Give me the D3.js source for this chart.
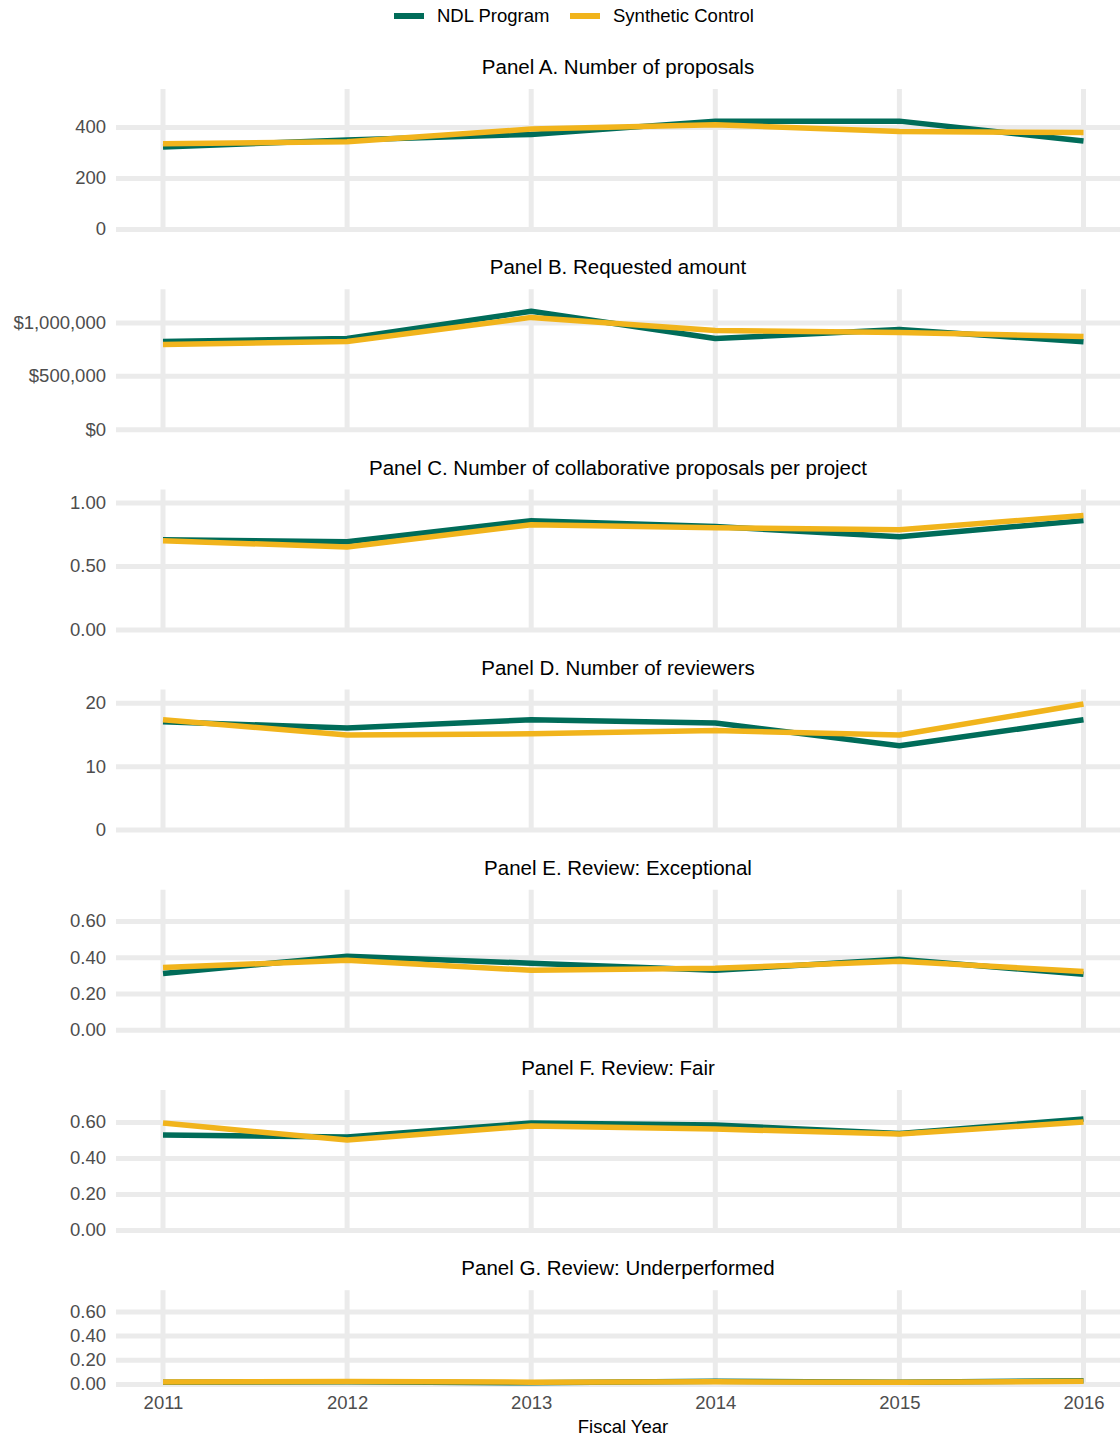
<!DOCTYPE html>
<html>
<head>
<meta charset="utf-8">
<script src="https://cdn.jsdelivr.net/npm/d3@7"></script>
<style>
  html, body { margin: 0; padding: 0; background: #fff; }
  svg { display: block; font-family: "Liberation Sans", Arial, sans-serif; }
</style>
</head>
<body>
<svg id="chart" width="1120" height="1437"></svg>
<script>
// Fiscal years on the shared x axis
const years = [2011, 2012, 2013, 2014, 2015, 2016];

const seriesNames = ["NDL Program", "Synthetic Control"];
const seriesColors = ["#006c59", "#f1b41c"];

const panelTitles = [
  "Panel A. Number of proposals",
  "Panel B. Requested amount",
  "Panel C. Number of collaborative proposals per project",
  "Panel D. Number of reviewers",
  "Panel E. Review: Exceptional",
  "Panel F. Review: Fair",
  "Panel G. Review: Underperformed"
];

// NDL Program values per panel
const ndlProposals      = [322, 349, 371, 423, 423, 345];
const ndlRequested      = [821000, 849000, 1104000, 849000, 934000, 818000];
const ndlCollab         = [0.706, 0.690, 0.857, 0.810, 0.730, 0.857];
const ndlReviewers      = [17.0, 16.0, 17.3, 16.8, 13.2, 17.3];
const ndlExceptional    = [0.311, 0.406, 0.367, 0.328, 0.389, 0.306];
const ndlFair           = [0.528, 0.517, 0.594, 0.583, 0.536, 0.617];
const ndlUnderperformed = [0.015, 0.018, 0.010, 0.022, 0.015, 0.026];

// Synthetic control values per panel
const synProposals      = [334, 342, 392, 409, 382, 378];
const synRequested      = [792000, 821000, 1047000, 925000, 906000, 868000];
const synCollab         = [0.698, 0.650, 0.825, 0.800, 0.786, 0.897];
const synReviewers      = [17.3, 14.9, 15.1, 15.6, 14.9, 19.8];
const synExceptional    = [0.344, 0.383, 0.328, 0.339, 0.378, 0.322];
const synFair           = [0.594, 0.500, 0.578, 0.561, 0.533, 0.600];
const synUnderperformed = [0.016, 0.020, 0.015, 0.018, 0.014, 0.022];

// y-axis upper limits and tick values per panel
const yMaxes = [549, 1311000, 1.103, 22.06, 0.772, 0.778, 0.775];
const yTicks = [
  [0, 200, 400],
  [0, 500000, 1000000],
  [0, 0.5, 1.0],
  [0, 10, 20],
  [0, 0.2, 0.4, 0.6],
  [0, 0.2, 0.4, 0.6],
  [0, 0.2, 0.4, 0.6]
];

const ndlSeries = [ndlProposals, ndlRequested, ndlCollab, ndlReviewers, ndlExceptional, ndlFair, ndlUnderperformed];
const synSeries = [synProposals, synRequested, synCollab, synReviewers, synExceptional, synFair, synUnderperformed];

const fmtInt = d3.format("d");
const fmtDollar = v => "$" + d3.format(",")(v);
const fmt2 = d3.format(".2f");
const tickFormats = [fmtInt, fmtDollar, fmt2, fmtInt, fmt2, fmt2, fmt2];

const svg = d3.select("#chart");
const gridColor = "#ebebeb";
const textGray = "#4d4d4d";

const plotLeft = 116, plotRight = 1120;
const x = d3.scalePoint().domain(years).range([163, 1083.5]);

// Legend
const legend = svg.append("g").attr("class", "legend");
const legendItems = [
  { key: 394, text: 437 },
  { key: 570, text: 613 }
];
seriesNames.forEach((name, i) => {
  legend.append("line")
    .attr("x1", legendItems[i].key).attr("x2", legendItems[i].key + 30)
    .attr("y1", 16).attr("y2", 16)
    .attr("stroke", seriesColors[i]).attr("stroke-width", 6);
  legend.append("text")
    .attr("x", legendItems[i].text).attr("y", 16).attr("dy", "0.35em")
    .attr("font-size", 18.5).attr("fill", "#000")
    .text(name);
});

// Panels
panelTitles.forEach((title, i) => {
  const top = 89 + i * 200.2;
  const zero = i < 6 ? top + 140 : 1384;
  const g = svg.append("g").attr("class", "panel");

  const y = d3.scaleLinear().domain([0, yMaxes[i]]).range([zero, top]);

  // title
  g.append("text")
    .attr("x", (plotLeft + plotRight) / 2).attr("y", top - 22).attr("dy", "0.35em")
    .attr("text-anchor", "middle").attr("font-size", 20.5).attr("fill", "#000")
    .text(title);

  // vertical grid lines
  g.selectAll("line.vgrid").data(years).join("line")
    .attr("class", "vgrid")
    .attr("x1", d => x(d)).attr("x2", d => x(d))
    .attr("y1", top).attr("y2", zero + 2.5)
    .attr("stroke", gridColor).attr("stroke-width", 5);

  // horizontal grid lines + y-axis labels
  const yAxis = d3.axisLeft(y).tickValues(yTicks[i]).tickFormat(tickFormats[i])
    .tickSize(-(plotRight - plotLeft)).tickPadding(10);
  const ax = g.append("g").attr("transform", `translate(${plotLeft},0)`).call(yAxis);
  ax.select(".domain").remove();
  ax.selectAll(".tick line").attr("stroke", gridColor).attr("stroke-width", 5).attr("x1", 0).attr("x2", plotRight - plotLeft);
  ax.selectAll(".tick text").attr("x", -10).attr("fill", textGray).attr("font-size", 18.5)
    .attr("font-family", "Liberation Sans, Arial, sans-serif");

  // series lines
  const line = d3.line().x((d, j) => x(years[j])).y(d => y(d));
  [ndlSeries[i], synSeries[i]].forEach((vals, k) => {
    g.append("path")
      .datum(vals)
      .attr("d", line)
      .attr("fill", "none")
      .attr("stroke", seriesColors[k])
      .attr("stroke-width", 5.5)
      .attr("stroke-linejoin", "round")
      .attr("stroke-linecap", "butt");
  });

  // x axis on the bottom panel
  if (i === 6) {
    const xAxis = d3.axisBottom(x).tickFormat(d3.format("d")).tickSize(0).tickPadding(12);
    const xa = g.append("g").attr("transform", `translate(0,${zero})`).call(xAxis);
    xa.select(".domain").remove();
    xa.selectAll(".tick text").attr("fill", textGray).attr("font-size", 18.5)
      .attr("font-family", "Liberation Sans, Arial, sans-serif");
    g.append("text")
      .attr("x", 623).attr("y", 1427).attr("dy", "0.35em")
      .attr("text-anchor", "middle").attr("font-size", 18.5).attr("fill", "#000")
      .text("Fiscal Year");
  }
});
</script>
</body>
</html>
